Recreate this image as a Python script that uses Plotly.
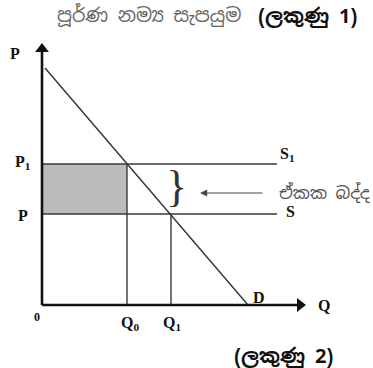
import plotly.graph_objects as go

# ── 데이터 (가격 / 수량 단위) ──────────────────────────────────────────────
DEMAND_Q = [3, 206]          # D 곡선 양 끝 수량
DEMAND_P = [237, 0]          # D 곡선 양 끝 가격
PRICE_P = 91                 # 원래 공급 가격 P (S)
PRICE_P1 = 141               # 세금 포함 가격 P1 (S1)
Q0 = 85
Q1 = 129
SUPPLY_END = 235             # S, S1 수평선 끝
AXIS_Q_END = 258
AXIS_P_END = 256

TITLE_GRAY = "පූර්ණ නම්‍ය සැපයුම"
TITLE_BOLD = "(ලකුණු 1)"
TAX_LABEL = "ඒකක බද්ද"
FOOT_LABEL = "(ලකුණු 2)"

SERIF = "Liberation Serif, DejaVu Serif, serif"
SINHALA = "Noto Sans Sinhala, Noto Serif Sinhala, Noto Sans, sans-serif"

fig = go.Figure()

# 음영 사각형 (세금 수입)
fig.add_trace(go.Scatter(
    x=[0, Q0, Q0, 0, 0], y=[PRICE_P, PRICE_P, PRICE_P1, PRICE_P1, PRICE_P],
    fill="toself", fillcolor="#bcbcbc", mode="lines",
    line=dict(width=0), hoverinfo="skip",
))

thin = dict(color="#3a3a3a", width=1.4)
# S1, S 수평선
fig.add_trace(go.Scatter(x=[0, SUPPLY_END], y=[PRICE_P1, PRICE_P1], mode="lines", line=thin))
fig.add_trace(go.Scatter(x=[0, SUPPLY_END], y=[PRICE_P, PRICE_P], mode="lines", line=thin))
# 수직선 Q0, Q1
fig.add_trace(go.Scatter(x=[Q0, Q0], y=[0, PRICE_P1], mode="lines", line=thin))
fig.add_trace(go.Scatter(x=[Q1, Q1], y=[0, PRICE_P], mode="lines", line=thin))
# 수요곡선
fig.add_trace(go.Scatter(x=DEMAND_Q, y=DEMAND_P, mode="lines", line=dict(color="#333", width=1.4)))

# 축
axis = dict(color="#111", width=2.6)
fig.add_trace(go.Scatter(x=[0, 0], y=[0, AXIS_P_END], mode="lines", line=axis))
fig.add_trace(go.Scatter(x=[0, AXIS_Q_END], y=[0, 0], mode="lines", line=axis))
fig.add_trace(go.Scatter(x=[0], y=[AXIS_P_END], mode="markers",
                         marker=dict(symbol="triangle-up", size=12, color="#111")))
fig.add_trace(go.Scatter(x=[AXIS_Q_END], y=[0], mode="markers",
                         marker=dict(symbol="triangle-right", size=12, color="#111")))


def label(x, y, text, size=16, xanchor="center", font=SERIF, color="#111"):
    fig.add_annotation(x=x, y=y, text=text, showarrow=False, xanchor=xanchor,
                       yanchor="middle", font=dict(family=font, size=size, color=color))


label(-27, 252, "<b>P</b>")
label(-19, PRICE_P1 + 2, "<b>P<sub>1</sub></b>")
label(-19, PRICE_P - 1, "<b>P</b>")
label(-5, -12, "<b>0</b>", size=12)
label(Q0 + 3, -18, "<b>Q<sub>0</sub></b>")
label(Q1 + 1, -18, "<b>Q<sub>1</sub></b>")
label(217, 8, "<b>D</b>")
label(282, 0, "<b>Q</b>")
label(SUPPLY_END + 10, PRICE_P1 + 10, "<b>S<sub>1</sub></b>")
label(SUPPLY_END + 13, PRICE_P + 3, "<b>S</b>")

# 중괄호 + 화살표
label(Q1 + 5, (PRICE_P + PRICE_P1) / 2 + 3, "}", size=44, font=SERIF, color="#333")
fig.add_annotation(x=158, y=(PRICE_P + PRICE_P1) / 2 - 4, ax=222, ay=(PRICE_P + PRICE_P1) / 2 - 4,
                   xref="x", yref="y", axref="x", ayref="y", text="",
                   showarrow=True, arrowhead=2, arrowsize=1.2, arrowwidth=1.2, arrowcolor="#444")
label(SUPPLY_END, (PRICE_P + PRICE_P1) / 2 - 4, TAX_LABEL, size=17, xanchor="left",
      font=SINHALA, color="#555")

# 제목 / 하단 라벨
label(13, 290, TITLE_GRAY, size=19, xanchor="left", font=SINHALA, color="#666")
label(214, 289, "<b>" + TITLE_BOLD + "</b>", size=20, xanchor="left", font=SINHALA)
label(190, -51, "<b>" + FOOT_LABEL + "</b>", size=20, xanchor="left", font=SINHALA)

fig.update_layout(
    width=373, height=368,
    margin=dict(l=0, r=0, t=0, b=0),
    showlegend=False,
    plot_bgcolor="white", paper_bgcolor="white",
    xaxis=dict(range=[-42, 331], visible=False, fixedrange=True),
    yaxis=dict(range=[-63, 305], visible=False, fixedrange=True),
)

fig.write_html("out.html", config={"displayModeBar": False},
               post_script="document.body.style.margin='0';")
